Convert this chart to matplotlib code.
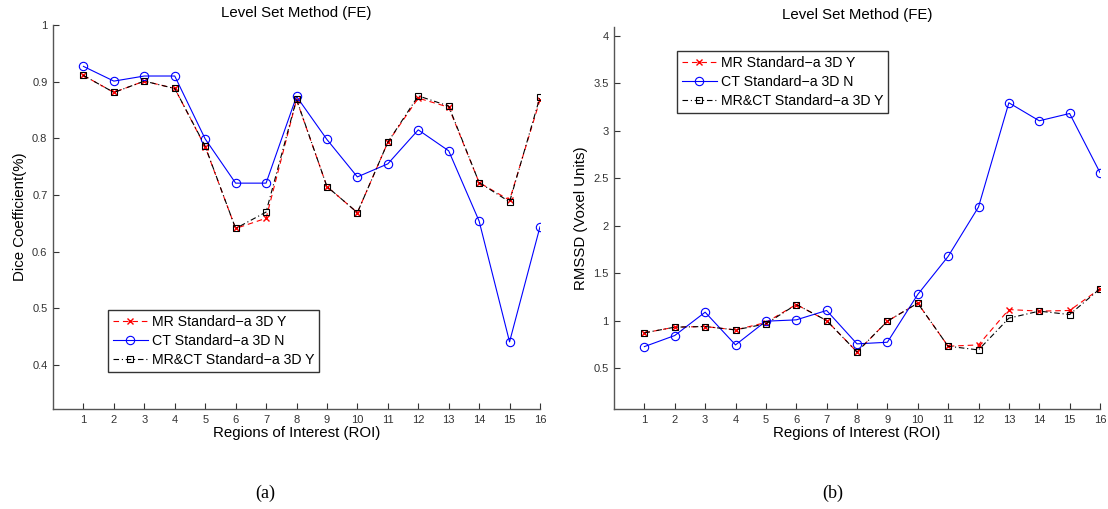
import matplotlib.pyplot as plt
import numpy as np

plt.rcParams['font.family'] = ['Liberation Sans', 'DejaVu Sans']

roi = np.arange(1, 17)

# Dice coefficient per ROI
dice_mr = [0.911, 0.881, 0.901, 0.888, 0.785, 0.641, 0.659, 0.868,
           0.715, 0.669, 0.793, 0.871, 0.855, 0.722, 0.691, 0.868]
dice_ct = [0.927, 0.901, 0.910, 0.910, 0.799, 0.721, 0.721, 0.874,
           0.798, 0.732, 0.755, 0.815, 0.778, 0.654, 0.441, 0.644]
dice_mrct = [0.911, 0.881, 0.901, 0.888, 0.786, 0.641, 0.670, 0.869,
             0.715, 0.669, 0.793, 0.875, 0.857, 0.722, 0.688, 0.873]

# RMSSD per ROI (voxel units)
rmssd_mr = [0.870, 0.930, 0.937, 0.901, 0.979, 1.169, 1.000, 0.669,
            0.993, 1.183, 0.729, 0.743, 1.116, 1.099, 1.106, 1.335]
rmssd_ct = [0.725, 0.842, 1.088, 0.743, 0.993, 1.007, 1.106, 0.754,
            0.771, 1.275, 1.676, 2.197, 3.296, 3.106, 3.183, 2.560]
rmssd_mrct = [0.870, 0.930, 0.937, 0.901, 0.965, 1.169, 1.000, 0.669,
              0.993, 1.183, 0.729, 0.690, 1.025, 1.099, 1.063, 1.335]

labels = ['MR Standard\u2212a 3D Y', 'CT Standard\u2212a 3D N',
          'MR&CT Standard\u2212a 3D Y']
title = 'Level Set Method (FE)'
xlab = 'Regions of Interest (ROI)'

fig = plt.figure(figsize=(11.08, 5.09), dpi=100)
W, H = 1108, 509
FS = 10.8


def px_axes(x0, y0, x1, y1):
    return fig.add_axes([x0 / W, 1 - y1 / H, (x1 - x0) / W, (y1 - y0) / H])


def draw(ax, mr, ct, mrct):
    ax.plot(roi, mr, color='red', ls=(0, (5, 3.5)), lw=0.8, marker='x',
            ms=4, mew=1.0, label=labels[0])
    ax.plot(roi, ct, color='blue', ls='-', lw=0.8, marker='o', ms=6,
            mfc='none', mew=0.8, label=labels[1])
    ax.plot(roi, mrct, color='black', ls=(0, (5, 2.5, 1, 2.5)), lw=0.8,
            marker='s', ms=4.5, mfc='none', mew=0.8, label=labels[2])
    ax.set_xlim(0, 16)
    ax.set_xticks(roi)
    for s in ('top', 'right'):
        ax.spines[s].set_visible(False)
    for s in ('left', 'bottom'):
        ax.spines[s].set_color('#555555')
        ax.spines[s].set_linewidth(1.0)
    ax.tick_params(direction='in', length=4, width=0.8, colors='#333333',
                   labelsize=8, pad=4)
    ax.set_title(title, fontsize=FS, pad=6)
    ax.set_xlabel(xlab, fontsize=FS, labelpad=1)


def legend(ax, x, y):
    leg = ax.legend(loc='upper left', bbox_to_anchor=(x / W, 1 - y / H),
                    bbox_transform=fig.transFigure, borderaxespad=0,
                    fontsize=10.2, frameon=True, fancybox=False,
                    edgecolor='black', handlelength=2.5, handletextpad=0.3,
                    labelspacing=0.38, borderpad=0.32)
    leg.get_frame().set_linewidth(1.0)


ax1 = px_axes(53, 25, 540, 409.3)
draw(ax1, dice_mr, dice_ct, dice_mrct)
ax1.set_ylim(0.322, 1.0)
ax1.set_yticks([0.4, 0.5, 0.6, 0.7, 0.8, 0.9, 1.0])
ax1.set_yticklabels(['0.4', '0.5', '0.6', '0.7', '0.8', '0.9', '1'])
ax1.set_ylabel('Dice Coefficient(%)', fontsize=FS, labelpad=4)
legend(ax1, 108, 310)

ax2 = px_axes(614, 27, 1100, 409.3)
draw(ax2, rmssd_mr, rmssd_ct, rmssd_mrct)
ax2.set_ylim(0.064, 4.095)
ax2.set_yticks([0.5, 1, 1.5, 2, 2.5, 3, 3.5, 4])
ax2.set_yticklabels(['0.5', '1', '1.5', '2', '2.5', '3', '3.5', '4'])
ax2.set_ylabel('RMSSD (Voxel Units)', fontsize=FS, labelpad=4)
legend(ax2, 677, 51)

fig.text(265 / W, 1 - 493 / H, '(a)', family='Liberation Serif',
         fontsize=13, ha='center', va='center')
fig.text(833 / W, 1 - 493 / H, '(b)', family='Liberation Serif',
         fontsize=13, ha='center', va='center')

fig.savefig('out.png', dpi=100)
